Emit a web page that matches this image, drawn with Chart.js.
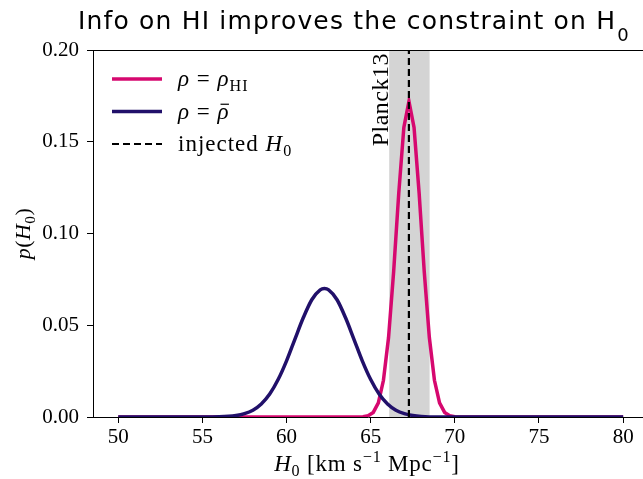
<!DOCTYPE html>
<html>
<head>
<meta charset="utf-8">
<script src="https://cdn.jsdelivr.net/npm/chart.js@4.4.1/dist/chart.umd.min.js"></script>
<style>
  html, body { margin: 0; padding: 0; background: #fff; overflow: hidden; }
  canvas { display: block; }
</style>
</head>
<body>
<canvas id="h0" width="643" height="479"></canvas>
<script>
// Posterior on H0 for the two density choices, Planck13 interval behind them

const H0_TICKS = [50, 55, 60, 65, 70, 75, 80];
const P_TICKS  = [0, 0.05, 0.10, 0.15, 0.20];

// rho = rho_HI
const hiH0 = [50, 64.242, 64.545, 64.848, 65.152, 65.455, 65.758, 66.061, 66.364, 66.667, 66.970,
              67.273, 67.576, 67.879, 68.182, 68.485, 68.788, 69.091, 69.394, 69.697, 70.0, 70.303, 80];
const hiP  = [0, 0, 0.0002, 0.0007, 0.0025, 0.0077, 0.0200, 0.0433, 0.0792, 0.1219, 0.1578,
              0.1720, 0.1578, 0.1219, 0.0792, 0.0433, 0.0200, 0.0077, 0.0025, 0.0007, 0.0002, 0, 0];

// rho = mean density
const barH0 = [50, 55, 56, 57, 57.5, 58, 58.5, 59, 59.5, 60, 60.5, 61, 61.5, 62, 62.25,
               62.5, 63, 63.5, 64, 64.5, 65, 65.5, 66, 66.5, 67, 67.5, 68, 69, 70, 80];
const barP  = [0, 0, 0.0001, 0.0008, 0.0018, 0.0037, 0.0071, 0.0125, 0.0204, 0.0306, 0.0425, 0.0542, 0.0639, 0.0693, 0.0700,
               0.0693, 0.0639, 0.0542, 0.0425, 0.0306, 0.0204, 0.0125, 0.0071, 0.0037, 0.0018, 0.0008, 0.0003, 0, 0, 0];

const injectedH0 = 67.27;
const planckBand = [66.1, 68.5];

const COLORS = {
  hi:   '#d6086f',
  bar:  '#21106a',
  band: '#d4d4d4',
  ink:  '#000000'
};

const SERIF = "'Liberation Serif', 'DejaVu Serif', serif";
const SANS  = "'DejaVu Sans', 'Open Sans', sans-serif";

const pts = (xs, ys) => xs.map((x, i) => ({ x, y: ys[i] }));

// draw a run of text pieces: { t, it, shift: 'sub' | 'sup', bar }
function drawRich(ctx, parts, x, y, size, align, spacing = 0) {
  const fontFor = p => `${p.it ? 'italic ' : ''}${p.shift ? size * 0.7 : size}px ${SERIF}`;
  ctx.letterSpacing = spacing + 'px';
  let w = 0;
  parts.forEach(p => {
    ctx.font = fontFor(p);
    p.w = ctx.measureText(p.t).width;
    w += p.w;
  });
  let cx = align === 'center' ? x - w / 2 : x;
  ctx.textAlign = 'left';
  ctx.textBaseline = 'alphabetic';
  parts.forEach(p => {
    ctx.font = fontFor(p);
    const dy = p.shift === 'sub' ? size * 0.22 : p.shift === 'sup' ? -size * 0.38 : 0;
    ctx.fillText(p.t, cx, y + dy);
    if (p.bar) {
      ctx.save();
      ctx.lineWidth = 1.2;
      ctx.beginPath();
      ctx.moveTo(cx + p.w * 0.25, y - size * 0.62);
      ctx.lineTo(cx + p.w * 0.95, y - size * 0.62);
      ctx.stroke();
      ctx.restore();
    }
    cx += p.w;
  });
  ctx.letterSpacing = '0px';
  return w;
}

const LEGEND = [
  { color: COLORS.hi,  dash: [], width: 3.5,
    text: [{ t: 'ρ', it: true }, { t: ' = ' }, { t: 'ρ', it: true }, { t: 'HI', shift: 'sub' }] },
  { color: COLORS.bar, dash: [], width: 3.5,
    text: [{ t: 'ρ', it: true }, { t: ' = ' }, { t: 'ρ', it: true, bar: true }] },
  { color: COLORS.ink, dash: [7, 4], width: 2.2,
    text: [{ t: 'injected ' }, { t: 'H', it: true }, { t: '0', shift: 'sub' }] }
];

const decor = {
  id: 'decor',
  beforeDatasetsDraw(chart) {
    const { ctx, chartArea: a, scales: { x } } = chart;
    const x0 = x.getPixelForValue(planckBand[0]);
    const x1 = x.getPixelForValue(planckBand[1]);
    ctx.save();
    ctx.fillStyle = COLORS.band;
    ctx.fillRect(x0, a.top, x1 - x0, a.bottom - a.top);
    ctx.restore();
  },
  afterDraw(chart) {
    const { ctx, chartArea: a, scales: { x } } = chart;
    ctx.save();
    ctx.fillStyle = COLORS.ink;
    ctx.strokeStyle = COLORS.ink;

    // top spine
    ctx.lineWidth = 1;
    ctx.beginPath();
    ctx.moveTo(a.left, Math.round(a.top) + 0.5);
    ctx.lineTo(a.right, Math.round(a.top) + 0.5);
    ctx.stroke();

    // title, spread to span the axes
    ctx.font = `25px ${SANS}`;
    ctx.textAlign = 'left';
    ctx.textBaseline = 'alphabetic';
    const title = 'Info on HI improves the constraint on H';
    const raw = ctx.measureText(title).width;
    ctx.letterSpacing = Math.max(0, (538 - raw) / title.length).toFixed(2) + 'px';
    ctx.fillText(title, 78, 29);
    const tw = ctx.measureText(title).width;
    ctx.letterSpacing = '0px';
    ctx.font = `18px ${SANS}`;
    ctx.fillText('0', 78 + tw + 1, 41);

    // Planck13 label, rotated along the left edge of the band
    ctx.save();
    ctx.translate(x.getPixelForValue(planckBand[0]) - 1, a.top + 3);
    ctx.rotate(-Math.PI / 2);
    ctx.font = `24px ${SERIF}`;
    ctx.letterSpacing = '0.5px';
    ctx.textAlign = 'right';
    ctx.fillText('Planck13', 0, 0);
    ctx.restore();

    // axis titles
    drawRich(ctx, [{ t: 'H', it: true }, { t: '0', shift: 'sub' }, { t: ' [km s' }, { t: '−1', shift: 'sup' },
                   { t: ' Mpc' }, { t: '−1', shift: 'sup' }, { t: ']' }], 367, 471, 23, 'center', 0.8);
    ctx.save();
    ctx.translate(30, (a.top + a.bottom) / 2);
    ctx.rotate(-Math.PI / 2);
    drawRich(ctx, [{ t: 'p', it: true }, { t: '(' }, { t: 'H', it: true }, { t: '0', shift: 'sub' }, { t: ')' }], 0, 0, 22, 'center', 0.5);
    ctx.restore();

    // legend
    LEGEND.forEach((e, i) => {
      const ly = 79 + i * 32.5;
      ctx.save();
      ctx.strokeStyle = e.color;
      ctx.lineWidth = e.width;
      ctx.setLineDash(e.dash);
      ctx.beginPath();
      ctx.moveTo(112, ly);
      ctx.lineTo(162, ly);
      ctx.stroke();
      ctx.restore();
      drawRich(ctx, e.text, 178, ly + 7, 23, 'left', 1);
    });
    ctx.restore();
  }
};

const axisStyle = {
  grid: { drawOnChartArea: false, drawTicks: true, tickLength: 6, color: COLORS.ink, lineWidth: 1 },
  border: { display: true, color: COLORS.ink, width: 1 }
};

new Chart(document.getElementById('h0'), {
  type: 'line',
  data: {
    datasets: [
      {
        label: 'rho_HI',
        data: pts(hiH0, hiP),
        borderColor: COLORS.hi,
        borderWidth: 3.5,
        tension: 0,
        pointRadius: 0,
        order: 2
      },
      {
        label: 'rho_bar',
        data: pts(barH0, barP),
        borderColor: COLORS.bar,
        borderWidth: 3.5,
        cubicInterpolationMode: 'monotone',
        pointRadius: 0,
        order: 1
      },
      {
        label: 'injected H0',
        data: pts([injectedH0, injectedH0], [0, 0.2]),
        borderColor: COLORS.ink,
        borderWidth: 2.2,
        borderDash: [7, 4],
        pointRadius: 0,
        order: 0
      }
    ]
  },
  options: {
    responsive: false,
    animation: false,
    layout: { padding: { top: 50, right: 0, left: 0, bottom: 0 } },
    plugins: { legend: { display: false }, tooltip: { enabled: false } },
    scales: {
      x: {
        type: 'linear',
        min: 48.5,
        max: 81.18,
        ...axisStyle,
        afterBuildTicks: s => { s.ticks = H0_TICKS.map(v => ({ value: v })); },
        afterFit: s => { s.height = 62; },
        ticks: { color: COLORS.ink, font: { family: SERIF, size: 21 }, padding: 2, maxRotation: 0, autoSkip: false }
      },
      y: {
        min: 0,
        max: 0.2,
        ...axisStyle,
        afterBuildTicks: s => { s.ticks = P_TICKS.map(v => ({ value: v })); },
        afterFit: s => { s.width = 93; },
        ticks: { color: COLORS.ink, font: { family: SERIF, size: 21 }, padding: 8, callback: v => v.toFixed(2) }
      }
    }
  },
  plugins: [decor]
});
</script>
</body>
</html>
